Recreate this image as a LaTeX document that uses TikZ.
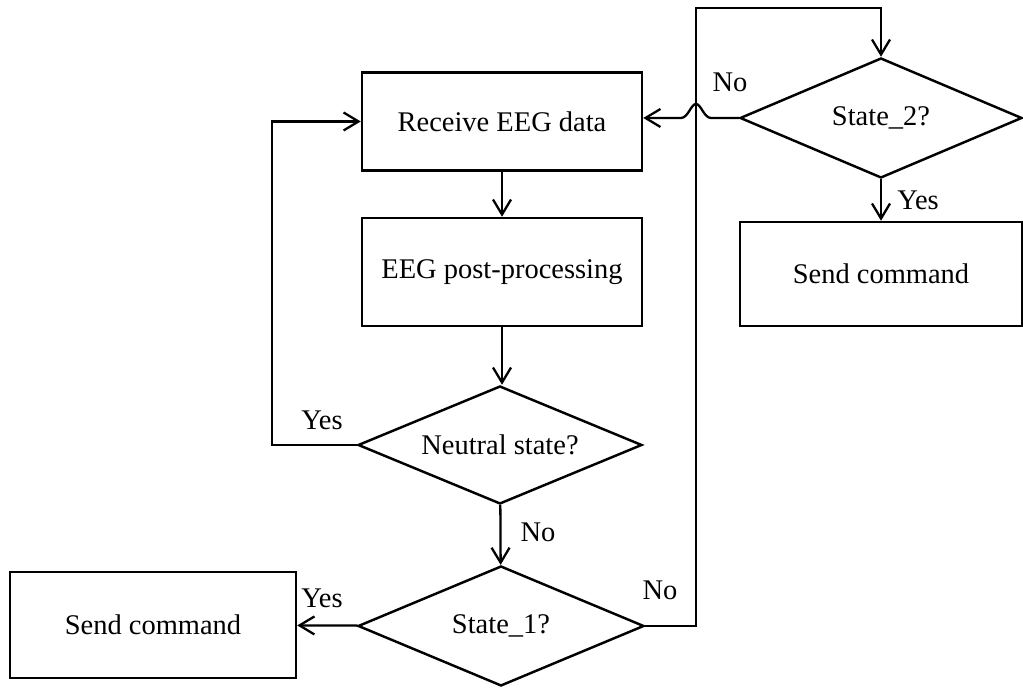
\documentclass[tikz,border=0pt]{standalone}
\usepackage{fontspec}
\setmainfont{Liberation Serif}
\usetikzlibrary{shapes.geometric,arrows.meta}

\tikzset{
  box/.style={draw,line width=1.4pt,minimum width=5.6cm,minimum height=2cm,inner sep=0pt},
  decision/.style={draw,diamond,aspect=2.4,line width=1.4pt,inner sep=0pt,minimum width=5.68cm,minimum height=2.36cm},
  flow/.style={line width=1.3pt,-{Straight Barb[length=0.3cm,width=0.36cm]}},
  lbl/.style={inner sep=1pt}
}

\begin{document}
\begin{tikzpicture}[font=\fontsize{16.2}{19}\selectfont]
  \useasboundingbox (0,0) rectangle (20.46,13.78);
  % main column
  \node[box,minimum height=1.96cm] (receive) at (10.04,11.35) {Receive EEG data};
  \node[box,minimum height=2.16cm] (post) at (10.04,8.34) {EEG post-processing};
  \node[decision] (neutral) at (10.0,4.88) {Neutral state?};
  \node[decision,minimum width=5.72cm,minimum height=2.4cm] (stateone) at (10.02,1.26) {State\_1?};
  \node[box,minimum width=5.72cm,minimum height=2.12cm] (sendone) at (3.06,1.28) {Send command};
  % right column
  \node[decision,minimum width=5.64cm,minimum height=2.4cm] (statetwo) at (17.62,11.42) {State\_2?};
  \node[box,minimum width=5.64cm,minimum height=2.08cm] (sendtwo) at (17.62,8.3) {Send command};
  \coordinate (up) at (13.92,13.62);
  % connectors
  \draw[flow] (receive) -- (post);
  \draw[flow] (post.south) -- (post.south |- neutral.north);
  \draw[flow] (neutral) -- (stateone);
  \draw[flow] (neutral.west) -- (5.44,4.88) |- (receive.west);
  \draw[flow] (stateone) -- (sendone);
  \draw[flow] (stateone.east) -| (up) -| (statetwo.north);
  \draw[flow] (statetwo) -- (sendtwo);
  \draw[flow] (statetwo.west) -- (14.22,11.42)
    .. controls (14.08,11.42) and (14.02,11.7) .. (13.92,11.7)
    .. controls (13.82,11.7) and (13.76,11.42) .. (13.62,11.42)
    -- (receive.east |- statetwo.west);
  % labels
  \node[lbl] (yesneutral) at (6.44,5.38) {Yes};
  \node[lbl] (noneutral) at (10.76,3.14) {No};
  \node[lbl] (yesone) at (6.44,1.82) {Yes};
  \node[lbl] (noone) at (13.2,1.98) {No};
  \node[lbl] (notwo) at (14.6,12.14) {No};
  \node[lbl] (yestwo) at (18.36,9.78) {Yes};
\end{tikzpicture}
\end{document}
